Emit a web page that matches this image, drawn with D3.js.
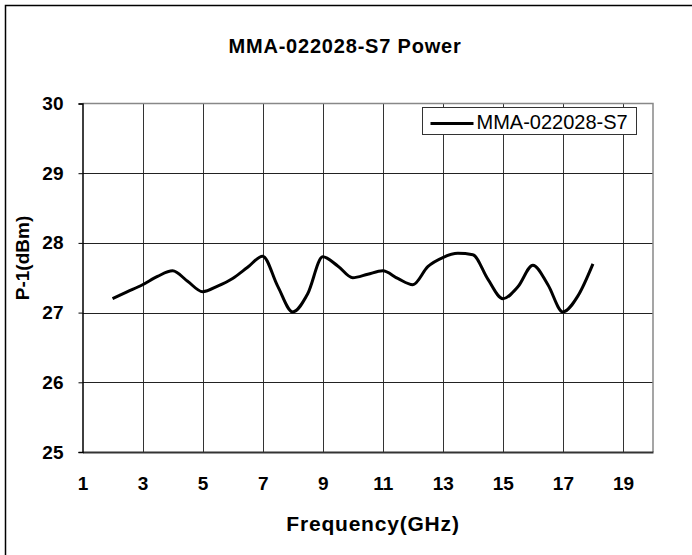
<!DOCTYPE html>
<html>
<head>
<meta charset="utf-8">
<script src="https://cdn.jsdelivr.net/npm/d3@7"></script>
<style>
  body { margin: 0; background: #fff; }
  text { font-family: "Liberation Sans", Arial, sans-serif; fill: #000; }
</style>
</head>
<body>
<script>
const freq = [2, 2.5, 3, 3.5, 4, 4.5, 5, 5.5, 6, 6.5, 7, 7.5, 8, 8.5, 9, 9.5, 10,
  10.5, 11, 11.5, 12, 12.5, 13, 13.5, 14, 14.5, 15, 15.5, 16, 16.5, 17, 17.5, 18];
const power = [27.20, 27.30, 27.40, 27.52, 27.60, 27.45, 27.30, 27.38, 27.49, 27.65, 27.81,
  27.38, 27.01, 27.27, 27.80, 27.67, 27.50, 27.55, 27.60, 27.49, 27.40, 27.66, 27.79,
  27.85, 27.83, 27.48, 27.20, 27.37, 27.68, 27.40, 27.01, 27.24, 27.70];
const xTicks = [1, 3, 5, 7, 9, 11, 13, 15, 17, 19];
const yTicks = [25, 26, 27, 28, 29, 30];
const seriesName = "MMA-022028-S7";

const W = 692, H = 555;
const plot = {left: 82.5, right: 653, top: 103.5, bottom: 452};

const svg = d3.select("body").append("svg")
    .attr("width", W)
    .attr("height", H);

// outer frame
svg.append("rect")
    .attr("x", 5.5).attr("y", 5.5)
    .attr("width", 700).attr("height", 560)
    .attr("fill", "none").attr("stroke", "#000").attr("stroke-width", 1.5);

var x = d3.scaleLinear().domain([1, 20]).range([plot.left, plot.right]);
var y = d3.scaleLinear().domain([25, 30]).range([plot.bottom, plot.top]);

// title
svg.append("text")
    .attr("x", 345).attr("y", 53)
    .attr("text-anchor", "middle")
    .style("font-size", "20px").style("font-weight", "bold")
    .style("letter-spacing", "0.8px")
    .text("MMA-022028-S7 Power");

// grid
svg.append("g").selectAll("line")
    .data(xTicks.slice(1))
  .enter().append("line")
    .attr("x1", d => Math.round(x(d)) + 0.5).attr("x2", d => Math.round(x(d)) + 0.5)
    .attr("y1", plot.top).attr("y2", plot.bottom)
    .attr("stroke", "#333").attr("stroke-width", 1);

svg.append("g").selectAll("line")
    .data(yTicks.slice(1, -1))
  .enter().append("line")
    .attr("y1", d => Math.round(y(d)) + 0.5).attr("y2", d => Math.round(y(d)) + 0.5)
    .attr("x1", plot.left).attr("x2", plot.right)
    .attr("stroke", "#222").attr("stroke-width", 1);

// plot frame: top/right grey, left/bottom axes
svg.append("path")
    .attr("d", `M${plot.left},${plot.top}H${plot.right}V${plot.bottom}`)
    .attr("fill", "none").attr("stroke", "#888").attr("stroke-width", 1.5);

// axes
var xAxis = svg.append("g")
    .attr("transform", "translate(0," + plot.bottom + ")")
    .call(d3.axisBottom(x).tickValues(xTicks).tickSize(0).tickPadding(25).tickFormat(d3.format("d")));
xAxis.select(".domain").attr("stroke", "#333").attr("stroke-width", 2);
xAxis.selectAll("text").style("font-size", "19px").style("font-weight", "bold");

var yAxis = svg.append("g")
    .attr("transform", "translate(" + plot.left + ",0)")
    .call(d3.axisLeft(y).tickValues(yTicks).tickSize(4).tickPadding(15).tickFormat(d3.format("d")));
yAxis.select(".domain").attr("stroke", "#000").attr("stroke-width", 1.5);
yAxis.selectAll(".tick line").attr("stroke", "#000");
yAxis.selectAll("text").style("font-size", "19px").style("font-weight", "bold");

// axis titles
svg.append("text")
    .attr("x", 373).attr("y", 531)
    .attr("text-anchor", "middle")
    .style("font-size", "21px").style("font-weight", "bold")
    .style("letter-spacing", "0.8px")
    .text("Frequency(GHz)");

svg.append("text")
    .attr("transform", "translate(29,258) rotate(-90)")
    .attr("text-anchor", "middle")
    .style("font-size", "19px").style("font-weight", "bold")
    .text("P-1(dBm)");

// series
var data = freq.map((f, i) => ({f: f, p: power[i]}));
svg.append("path")
    .datum(data)
    .attr("fill", "none")
    .attr("stroke", "#000")
    .attr("stroke-width", 3)
    .attr("stroke-linejoin", "round")
    .attr("d", d3.line().x(d => x(d.f)).y(d => y(d.p)).curve(d3.curveMonotoneX));

// legend
var legend = svg.append("g").attr("transform", "translate(422.5,107.5)");
legend.append("rect")
    .attr("width", 214).attr("height", 27)
    .attr("fill", "#fff").attr("stroke", "#333").attr("stroke-width", 1);
legend.append("line")
    .attr("x1", 8).attr("x2", 51).attr("y1", 16).attr("y2", 16)
    .attr("stroke", "#000").attr("stroke-width", 3);
legend.append("text")
    .attr("x", 54).attr("y", 21)
    .style("font-size", "20px")
    .text(seriesName);
</script>
</body>
</html>
